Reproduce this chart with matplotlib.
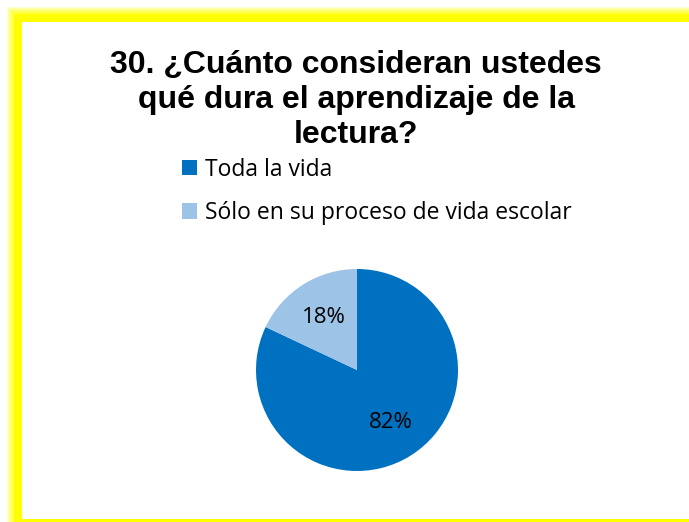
import matplotlib
matplotlib.use("Agg")
import matplotlib.pyplot as plt
from matplotlib.patches import Rectangle, Patch

labels = ["Toda la vida", "Sólo en su proceso de vida escolar"]
values = [82, 18]
colors = ["#0070C0", "#9DC3E6"]
title = "30. ¿Cuánto consideran ustedes\nqué dura el aprendizaje de la\nlectura?"

W, H = 689, 522
fig = plt.figure(figsize=(W / 100, H / 100), dpi=100)


def rect_px(x0, y0, x1, y1, **kw):
    # pixel coords, y measured from the top
    r = Rectangle((x0 / W, 1 - y1 / H), (x1 - x0) / W, (y1 - y0) / H,
                  transform=fig.transFigure, zorder=-10, **kw)
    fig.patches.append(r)


# yellow frame with a soft glow on top/left
for k in range(8):
    rect_px(14 - k, 14 - k, W + 10, H + 10, facecolor="yellow", edgecolor="none", alpha=0.18)
rect_px(14, 14, W + 10, H + 10, facecolor="yellow", edgecolor="none")
rect_px(22, 22, W + 10, H - 3, facecolor="white", edgecolor="none")

fig.text(356 / W, 1 - 100 / H, title, ha="center", va="center", fontsize=23,
         fontweight="bold", family="Liberation Sans", linespacing=1.2)

cx, cy, r = 357, 370, 101
ax = fig.add_axes([(cx - r) / W, 1 - (cy + r) / H, 2 * r / W, 2 * r / H])
ax.set_zorder(5)
wedges, texts, autotexts = ax.pie(values, colors=colors, startangle=90, counterclock=False,
                                  autopct="%d%%", pctdistance=0.62,
                                  wedgeprops=dict(edgecolor="none"),
                                  textprops=dict(fontsize=16, family="Open Sans"))
ax.set_xlim(-1, 1)
ax.set_ylim(-1, 1)
ax.set_aspect("equal")
ax.axis("off")

handles = [Patch(facecolor=c, edgecolor="none") for c in colors]
fig.legend(handles, labels, loc="upper left", bbox_to_anchor=(161 / W, 1 - 137 / H),
           frameon=False, prop=dict(family="Open Sans", size=16.5),
           handlelength=0.65, handleheight=0.65, handletextpad=0.35, labelspacing=0.85)

fig.savefig("out.png", dpi=100)
